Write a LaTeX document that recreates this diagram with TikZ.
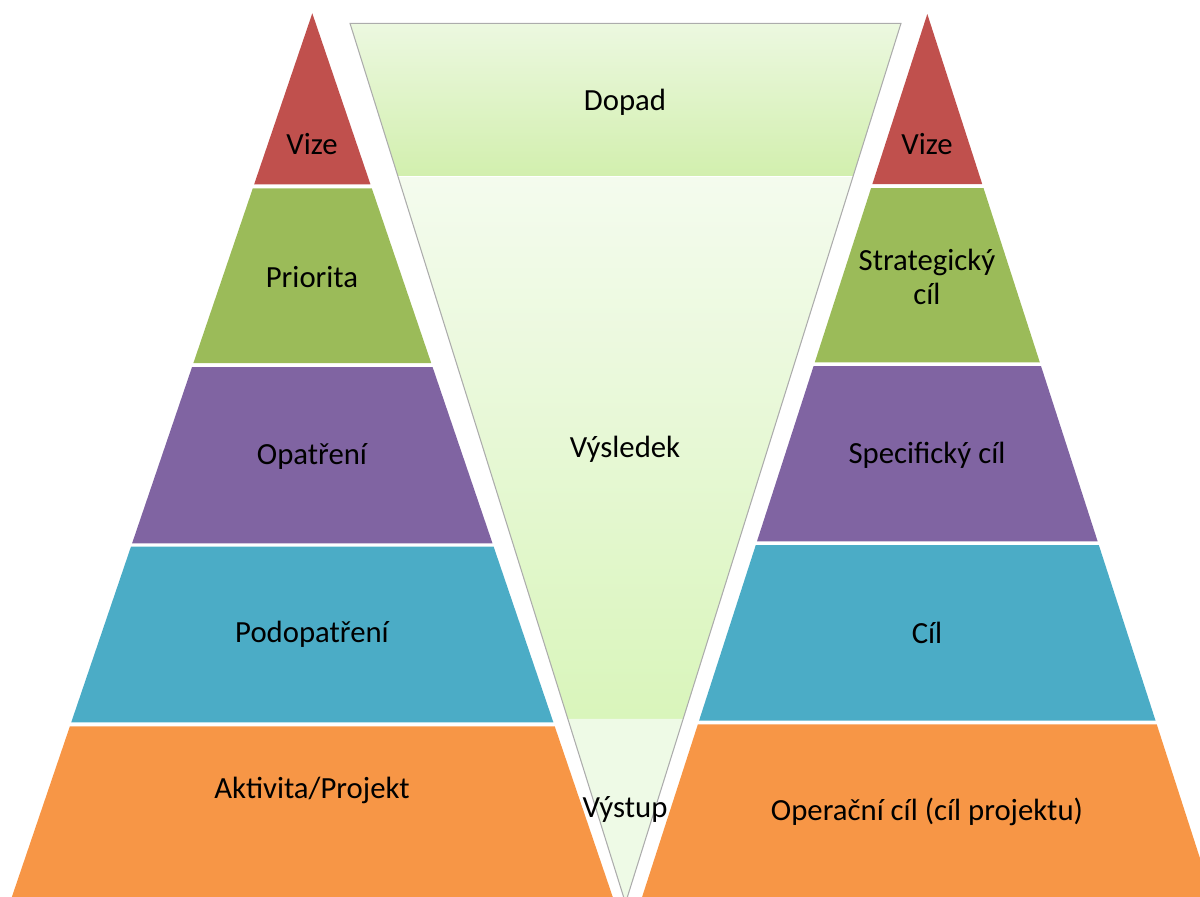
\documentclass[tikz,border=0pt]{standalone}
\usepackage{fontspec}
\setmainfont{Carlito}
\usetikzlibrary{calc}
\definecolor{vred}{HTML}{C0504D}
\definecolor{vgreen}{HTML}{9BBB59}
\definecolor{vpurple}{HTML}{8064A2}
\definecolor{vblue}{HTML}{4BACC6}
\definecolor{vorange}{HTML}{F79646}
\definecolor{dopadtop}{HTML}{ECF8E0}
\definecolor{dopadbot}{HTML}{D2EFAE}
\definecolor{vystop}{HTML}{F4FBEE}
\definecolor{vysbot}{HTML}{D9F5BB}
\definecolor{vystup}{HTML}{EEFAE6}
\begin{document}
\begin{tikzpicture}[x=0.02cm,y=-0.02cm,lbl/.style={draw=none,font=\fontsize{17.5}{19}\selectfont,text=black,align=center},edgeline/.style={draw=gray!65,line width=0.6pt}]
\useasboundingbox (0,0) rectangle (1200,896);
\clip (0,0) rectangle (1200,896);

% left pyramid
\foreach \yt/\yb/\col in {13.3/184.3/vred,188.3/363/vgreen,367/543.3/vpurple,546.7/722.3/vblue,726.3/900/vorange}
  \fill[\col] ({312.3-0.34*(\yt-13.3)},\yt) -- ({312.3+0.34*(\yt-13.3)},\yt) -- ({312.3+0.34*(\yb-13.3)},\yb) -- ({312.3-0.34*(\yb-13.3)},\yb) -- cycle;

% right pyramid
\foreach \yt/\yb/\col in {14/184/vred,188/362.3/vgreen,366/541.3/vpurple,545/720.7/vblue,724.3/900/vorange}
  \fill[\col] ({927.3-0.323*(\yt-14)},\yt) -- ({927.3+0.323*(\yt-14)},\yt) -- ({927.3+0.323*(\yb-14)},\yb) -- ({927.3-0.323*(\yb-14)},\yb) -- cycle;

% inverted triangle
\coordinate (tl) at (350,23.3);
\coordinate (tr) at (901,23.3);
\coordinate (tip) at (625.5,903);
\coordinate (l1) at ($(tl)!0.1744!(tip)$);
\coordinate (r1) at ($(tr)!0.1744!(tip)$);
\coordinate (l2) at ($(tl)!0.7908!(tip)$);
\coordinate (r2) at ($(tr)!0.7908!(tip)$);
\shade[top color=dopadtop,bottom color=dopadbot] (tl) -- (tr) -- (r1) -- (l1) -- cycle;
\shade[top color=vystop,bottom color=vysbot] (l1) -- (r1) -- (r2) -- (l2) -- cycle;
\fill[vystup] (l2) -- (r2) -- (tip) -- cycle;
\draw[white,line width=0.8pt] (l1) -- (r1);
\draw[edgeline] (tl) -- (tr) -- (tip) -- cycle;

% Nodes
\node[lbl] (vizeL) at (312,144) {Vize};
\node[lbl] (priorita) at (312,277) {Priorita};
\node[lbl] (opatreni) at (312,456) {Opatření};
\node[lbl] (podopatreni) at (312,634) {Podopatření};
\node[lbl] (aktivita) at (312,790) {Aktivita/Projekt};

\node[lbl] (vizeR) at (927,144) {Vize};
\node[lbl] (strategicky) at (927,277) {Strategický\\cíl};
\node[lbl] (specificky) at (927,455) {Specifický cíl};
\node[lbl] (cil) at (927,633) {Cíl};
\node[lbl] (operacni) at (927,812) {Operační cíl (cíl projektu)};

\node[lbl] (dopad) at (625,102) {Dopad};
\node[lbl] (vysledek) at (625,449) {Výsledek};
\node[lbl] (vystup) at (625,809) {Výstup};

\end{tikzpicture}
\end{document}
